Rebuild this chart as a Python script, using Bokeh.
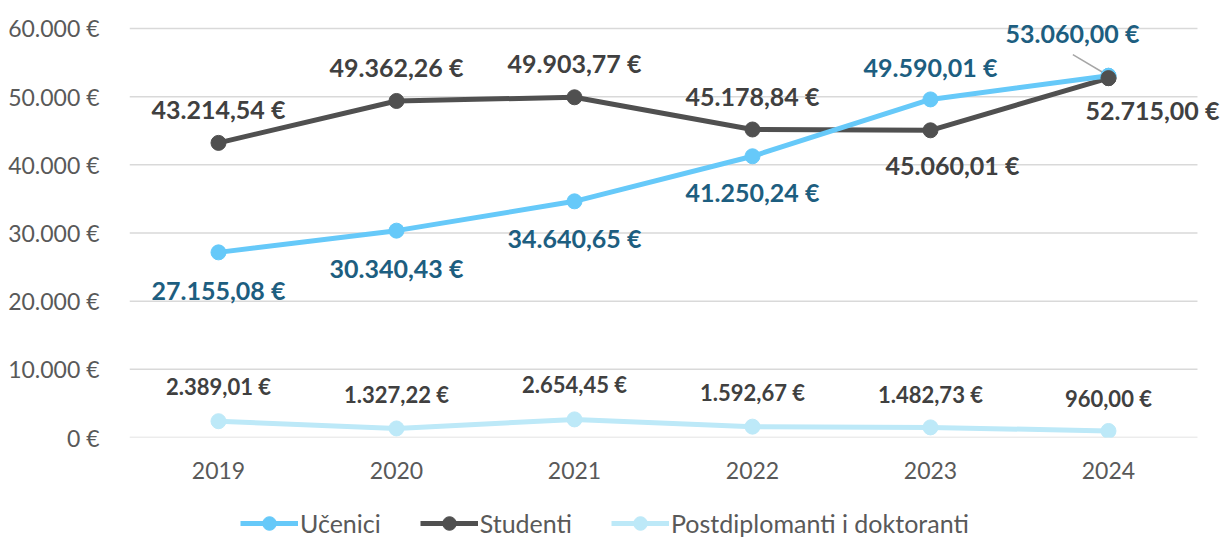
from bokeh.plotting import figure
from bokeh.layouts import column
from bokeh.models import ColumnDataSource, FixedTicker, Legend, LegendItem
from bokeh.core.properties import value
from bokeh.embed import file_html
from bokeh.resources import INLINE

years = ["2019", "2020", "2021", "2022", "2023", "2024"]
ucenici = [27155.08, 30340.43, 34640.65, 41250.24, 49590.01, 53060.00]
studenti = [43214.54, 49362.26, 49903.77, 45178.84, 45060.01, 52715.00]
postdipl = [2389.01, 1327.22, 2654.45, 1592.67, 1482.73, 960.00]
y_ticks = [0, 10000, 20000, 30000, 40000, 50000, 60000]

FONT = "Lato"

def fmt_eur(v, dec=2):
    s = f"{v:,.{dec}f}"
    s = s.replace(",", "X").replace(".", ",").replace("X", ".")
    return s + " €"

xs = list(range(len(years)))
x_lo, x_hi = -0.5, len(years) - 0.5

# frame extends past the gridlines (to the figure's top and right) so labels are not clipped
p = figure(width=1221, height=490, output_backend="svg", toolbar_location=None,
           x_range=(x_lo, x_hi + 0.135), y_range=(0, 64100),
           min_border_left=129, min_border_right=0, min_border_top=0, min_border_bottom=53)
p.outline_line_color = None
p.background_fill_color = "white"
p.border_fill_color = "white"
p.grid.visible = False

# horizontal gridlines, one per y tick, across the category span only
p.segment(x0=[x_lo] * len(y_ticks), y0=y_ticks, x1=[x_hi] * len(y_ticks), y1=y_ticks,
          line_color="#d9d9d9", line_width=1.5)

p.yaxis.ticker = FixedTicker(ticks=y_ticks)
p.yaxis.major_label_overrides = {t: fmt_eur(t, 0) for t in y_ticks}
p.xaxis.ticker = FixedTicker(ticks=xs)
p.xaxis.major_label_overrides = {i: y for i, y in enumerate(years)}
for ax in (p.xaxis[0], p.yaxis[0]):
    ax.axis_line_color = None
    ax.major_tick_line_color = None
    ax.minor_tick_line_color = None
    ax.major_label_text_font = FONT
    ax.major_label_text_font_size = "23px"
    ax.major_label_text_color = "#595959"
p.yaxis.major_label_standoff = 24
p.xaxis.major_label_standoff = 18

c_uc = "#66c9f9"
c_st = "#505050"
c_pd = "#bde9f8"

series = [
    ("Učenici", ucenici, c_uc),
    ("Studenti", studenti, c_st),
    ("Postdiplomanti i doktoranti", postdipl, c_pd),
]

for name, vals, col in reversed(series):
    src = ColumnDataSource(dict(x=xs, y=vals))
    p.line("x", "y", source=src, line_color=col, line_width=5)
    p.scatter("x", "y", source=src, size=15, fill_color=col, line_color=col)

# leader line for last Učenici label
p.segment(x0=[xs[-1] - 0.2], y0=[ucenici[-1] + 3100], x1=[xs[-1]], y1=[ucenici[-1]],
          line_color="#a6a6a6", line_width=1.5)
p.scatter([xs[-1]], [ucenici[-1]], size=15, fill_color=c_uc, line_color=c_uc)
p.scatter([xs[-1]], [studenti[-1]], size=15, fill_color=c_st, line_color=c_st)

# label offsets (pixels; positive y = up)
uc_dx = [0, 0, 0, 0, 0, -36]
uc_dy = [-38, -37, -37, -36, 32, 43]
st_dx = [0, 0, 0, 0, 22, 44]
st_dy = [34, 34, 34, 33, -35, -32]
pd_dy = [35, 34, 35, 34, 33, 32]

def add_labels(vals, dx, dy, color, size):
    src = ColumnDataSource(dict(x=xs, y=vals, t=[fmt_eur(v) for v in vals],
                                dx=dx, dy=[-d for d in dy]))
    p.text("x", "y", text="t", source=src, x_offset="dx", y_offset="dy",
           text_align="center", text_baseline="middle",
           text_font=value(FONT), text_font_style="bold",
           text_font_size=size, text_color=color)

add_labels(ucenici, uc_dx, uc_dy, "#1d5e80", "25px")
add_labels(studenti, st_dx, st_dy, "#404040", "25px")
add_labels(postdipl, [0] * 6, pd_dy, "#404040", "22px")

# legend in its own strip below the chart (frame aligned with the chart's frame)
lf = figure(width=1221, height=50, output_backend="svg", toolbar_location=None,
            x_range=(0, 1), y_range=(0, 1), min_border=0,
            x_axis_location=None, y_axis_location=None)
lf.grid.visible = False
lf.outline_line_color = None
lf.border_fill_color = "white"
lf.background_fill_color = "white"
items = []
for name, _, col in series:
    hidden = ColumnDataSource(dict(x=[-5, -4], y=[-5, -5]))
    l = lf.line("x", "y", source=hidden, line_color=col, line_width=5)
    c = lf.scatter("x", "y", source=hidden, size=15, fill_color=col, line_color=col)
    items.append(LegendItem(label=name, renderers=[l, c]))
legend = Legend(items=items, orientation="horizontal", location=(111, 0),
                label_text_font=FONT, label_text_font_size="25px",
                label_text_color="#595959", border_line_color=None,
                background_fill_alpha=0, glyph_width=58, glyph_height=34, spacing=39,
                label_standoff=2, padding=0, margin=0, label_height=22)
lf.add_layout(legend, "center")

open("out.html", "w").write(file_html(column(p, lf, spacing=0), INLINE))
